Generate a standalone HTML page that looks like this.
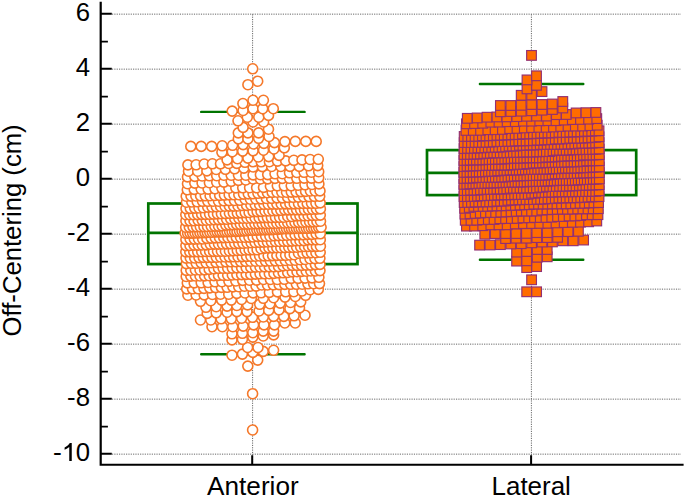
<!DOCTYPE html>
<html><head><meta charset="utf-8"><style>
html,body{margin:0;padding:0;background:#fff;width:685px;height:497px;overflow:hidden;}
body{position:relative;font-family:"Liberation Sans",sans-serif;}
</style></head><body>
<svg width="685" height="497" viewBox="0 0 685 497" style="position:absolute;left:0;top:0">
<defs><filter id="gb" x="-1%" y="-50%" width="102%" height="200%"><feGaussianBlur stdDeviation="0.45"/></filter></defs>
<rect width="685" height="497" fill="#fff"/>
<path d="M112 454.15H681 M112 399.15H681 M112 344.15H681 M112 289.15H681 M112 234.15H681 M112 179.15H681 M112 124.15H681 M112 69.15H681 M112 14.15H681 M252.60 14.3V463 M531.40 14.3V463" stroke="#666" stroke-width="1" stroke-dasharray="1.17 1.17" fill="none" filter="url(#gb)"/>
<rect x="148.30" y="203.50" width="209.20" height="60.60" fill="#fff" stroke="#007400" stroke-width="2.7"/><path d="M148.30 232.85H357.50" stroke="#007400" stroke-width="2.7" fill="none"/><path d="M201.20 111.90H304.60M201.20 354.30H304.60" stroke="#007400" stroke-width="2.4" stroke-linecap="round" fill="none"/>
<rect x="427.00" y="150.10" width="209.20" height="45.00" fill="#fff" stroke="#007400" stroke-width="2.7"/><path d="M427.00 172.90H636.20" stroke="#007400" stroke-width="2.7" fill="none"/><path d="M479.90 84.00H583.30M479.90 259.80H583.30" stroke="#007400" stroke-width="2.4" stroke-linecap="round" fill="none"/>
<g fill="#fff" stroke="#F5782A" stroke-width="1.6"><circle cx="252.6" cy="430.0" r="5.0"/><circle cx="252.6" cy="393.7" r="5.0"/><circle cx="247.8" cy="366.1" r="5.0"/><circle cx="257.7" cy="360.1" r="5.0"/><circle cx="232.0" cy="355.2" r="5.0"/><circle cx="242.4" cy="354.1" r="5.0"/><circle cx="252.8" cy="352.4" r="5.0"/><circle cx="263.2" cy="351.4" r="5.0"/><circle cx="273.6" cy="350.3" r="5.0"/><circle cx="247.6" cy="347.5" r="5.0"/><circle cx="258.0" cy="347.5" r="5.0"/><circle cx="232.0" cy="339.9" r="5.0"/><circle cx="242.4" cy="339.3" r="5.0"/><circle cx="252.8" cy="337.1" r="5.0"/><circle cx="263.2" cy="336.0" r="5.0"/><circle cx="273.6" cy="334.9" r="5.0"/><circle cx="232.0" cy="333.8" r="5.0"/><circle cx="242.4" cy="333.3" r="5.0"/><circle cx="252.8" cy="332.7" r="5.0"/><circle cx="263.2" cy="331.1" r="5.0"/><circle cx="273.6" cy="331.1" r="5.0"/><circle cx="212.0" cy="326.7" r="5.0"/><circle cx="222.4" cy="326.7" r="5.0"/><circle cx="232.8" cy="326.7" r="5.0"/><circle cx="243.2" cy="326.1" r="5.0"/><circle cx="253.6" cy="324.9" r="5.0"/><circle cx="264.0" cy="324.9" r="5.0"/><circle cx="274.4" cy="324.9" r="5.0"/><circle cx="284.8" cy="323.0" r="5.0"/><circle cx="295.2" cy="323.0" r="5.0"/><circle cx="200.5" cy="320.0" r="5.0"/><circle cx="210.8" cy="320.0" r="5.0"/><circle cx="221.1" cy="318.8" r="5.0"/><circle cx="231.3" cy="318.8" r="5.0"/><circle cx="241.6" cy="318.2" r="5.0"/><circle cx="252.5" cy="317.3" r="5.0"/><circle cx="263.3" cy="317.0" r="5.0"/><circle cx="273.6" cy="316.4" r="5.0"/><circle cx="283.8" cy="316.4" r="5.0"/><circle cx="294.1" cy="315.8" r="5.0"/><circle cx="305.0" cy="315.2" r="5.0"/><circle cx="207.2" cy="313.4" r="5.0"/><circle cx="216.2" cy="312.8" r="5.0"/><circle cx="227.1" cy="312.2" r="5.0"/><circle cx="236.8" cy="311.6" r="5.0"/><circle cx="247.0" cy="311.6" r="5.0"/><circle cx="259.1" cy="311.0" r="5.0"/><circle cx="268.7" cy="310.4" r="5.0"/><circle cx="279.0" cy="309.8" r="5.0"/><circle cx="289.9" cy="308.6" r="5.0"/><circle cx="299.5" cy="307.9" r="5.0"/><circle cx="206.0" cy="307.3" r="5.0"/><circle cx="216.2" cy="306.7" r="5.0"/><circle cx="227.1" cy="306.1" r="5.0"/><circle cx="236.8" cy="305.5" r="5.0"/><circle cx="247.6" cy="304.9" r="5.0"/><circle cx="259.7" cy="304.3" r="5.0"/><circle cx="269.9" cy="303.7" r="5.0"/><circle cx="280.2" cy="303.1" r="5.0"/><circle cx="290.5" cy="302.5" r="5.0"/><circle cx="300.7" cy="301.9" r="5.0"/><circle cx="200.5" cy="301.3" r="5.0"/><circle cx="210.8" cy="300.7" r="5.0"/><circle cx="221.7" cy="300.1" r="5.0"/><circle cx="231.3" cy="300.1" r="5.0"/><circle cx="241.6" cy="299.5" r="5.0"/><circle cx="251.3" cy="298.5" r="5.0"/><circle cx="263.3" cy="298.3" r="5.0"/><circle cx="273.6" cy="297.7" r="5.0"/><circle cx="285.0" cy="297.1" r="5.0"/><circle cx="295.3" cy="296.5" r="5.0"/><circle cx="305.6" cy="295.3" r="5.0"/><circle cx="187.9" cy="295.2" r="5.0"/><circle cx="196.1" cy="295.0" r="5.0"/><circle cx="204.2" cy="294.9" r="5.0"/><circle cx="212.4" cy="294.5" r="5.0"/><circle cx="220.5" cy="294.2" r="5.0"/><circle cx="228.7" cy="294.2" r="5.0"/><circle cx="236.8" cy="293.4" r="5.0"/><circle cx="245.0" cy="293.0" r="5.0"/><circle cx="253.1" cy="292.9" r="5.0"/><circle cx="261.2" cy="292.8" r="5.0"/><circle cx="269.4" cy="292.4" r="5.0"/><circle cx="277.5" cy="291.9" r="5.0"/><circle cx="285.7" cy="291.8" r="5.0"/><circle cx="293.8" cy="291.7" r="5.0"/><circle cx="302.0" cy="291.0" r="5.0"/><circle cx="310.1" cy="289.7" r="5.0"/><circle cx="318.3" cy="289.4" r="5.0"/><circle cx="186.7" cy="288.9" r="5.0"/><circle cx="192.5" cy="288.8" r="5.0"/><circle cx="198.3" cy="288.8" r="5.0"/><circle cx="204.0" cy="288.4" r="5.0"/><circle cx="209.8" cy="287.9" r="5.0"/><circle cx="215.6" cy="287.6" r="5.0"/><circle cx="221.4" cy="287.4" r="5.0"/><circle cx="227.1" cy="287.3" r="5.0"/><circle cx="232.9" cy="286.9" r="5.0"/><circle cx="238.7" cy="286.7" r="5.0"/><circle cx="244.4" cy="286.2" r="5.0"/><circle cx="250.2" cy="286.2" r="5.0"/><circle cx="256.0" cy="286.1" r="5.0"/><circle cx="261.8" cy="285.0" r="5.0"/><circle cx="267.5" cy="285.0" r="5.0"/><circle cx="273.3" cy="284.8" r="5.0"/><circle cx="279.1" cy="284.6" r="5.0"/><circle cx="284.8" cy="284.4" r="5.0"/><circle cx="290.6" cy="284.3" r="5.0"/><circle cx="296.4" cy="284.3" r="5.0"/><circle cx="302.2" cy="284.2" r="5.0"/><circle cx="307.9" cy="283.8" r="5.0"/><circle cx="313.7" cy="283.7" r="5.0"/><circle cx="319.5" cy="283.6" r="5.0"/><circle cx="187.3" cy="282.9" r="5.0"/><circle cx="194.2" cy="282.9" r="5.0"/><circle cx="201.2" cy="282.8" r="5.0"/><circle cx="208.1" cy="282.5" r="5.0"/><circle cx="215.0" cy="281.8" r="5.0"/><circle cx="221.9" cy="281.7" r="5.0"/><circle cx="228.9" cy="281.3" r="5.0"/><circle cx="235.8" cy="281.0" r="5.0"/><circle cx="242.7" cy="280.4" r="5.0"/><circle cx="249.6" cy="280.2" r="5.0"/><circle cx="256.6" cy="280.1" r="5.0"/><circle cx="263.5" cy="279.5" r="5.0"/><circle cx="270.4" cy="279.5" r="5.0"/><circle cx="277.3" cy="279.5" r="5.0"/><circle cx="284.3" cy="279.3" r="5.0"/><circle cx="291.2" cy="278.4" r="5.0"/><circle cx="298.1" cy="278.4" r="5.0"/><circle cx="305.0" cy="278.1" r="5.0"/><circle cx="312.0" cy="277.9" r="5.0"/><circle cx="318.9" cy="277.3" r="5.0"/><circle cx="186.2" cy="276.5" r="5.0"/><circle cx="190.8" cy="276.1" r="5.0"/><circle cx="195.4" cy="276.0" r="5.0"/><circle cx="200.0" cy="276.0" r="5.0"/><circle cx="204.6" cy="275.9" r="5.0"/><circle cx="209.2" cy="275.7" r="5.0"/><circle cx="213.9" cy="275.6" r="5.0"/><circle cx="218.5" cy="275.4" r="5.0"/><circle cx="223.1" cy="275.3" r="5.0"/><circle cx="227.7" cy="275.3" r="5.0"/><circle cx="232.3" cy="275.0" r="5.0"/><circle cx="236.9" cy="274.8" r="5.0"/><circle cx="241.6" cy="274.6" r="5.0"/><circle cx="246.2" cy="274.4" r="5.0"/><circle cx="250.8" cy="274.4" r="5.0"/><circle cx="255.4" cy="274.1" r="5.0"/><circle cx="260.0" cy="273.8" r="5.0"/><circle cx="264.6" cy="273.8" r="5.0"/><circle cx="269.3" cy="273.7" r="5.0"/><circle cx="273.9" cy="273.4" r="5.0"/><circle cx="278.5" cy="272.9" r="5.0"/><circle cx="283.1" cy="272.8" r="5.0"/><circle cx="287.7" cy="272.5" r="5.0"/><circle cx="292.3" cy="271.9" r="5.0"/><circle cx="297.0" cy="271.7" r="5.0"/><circle cx="301.6" cy="271.4" r="5.0"/><circle cx="306.2" cy="271.2" r="5.0"/><circle cx="310.8" cy="271.0" r="5.0"/><circle cx="315.4" cy="271.0" r="5.0"/><circle cx="320.0" cy="270.6" r="5.0"/><circle cx="186.2" cy="270.4" r="5.0"/><circle cx="190.8" cy="270.2" r="5.0"/><circle cx="195.4" cy="270.0" r="5.0"/><circle cx="200.0" cy="270.0" r="5.0"/><circle cx="204.6" cy="269.9" r="5.0"/><circle cx="209.2" cy="269.4" r="5.0"/><circle cx="213.9" cy="268.8" r="5.0"/><circle cx="218.5" cy="268.4" r="5.0"/><circle cx="223.1" cy="268.3" r="5.0"/><circle cx="227.7" cy="268.3" r="5.0"/><circle cx="232.3" cy="268.1" r="5.0"/><circle cx="236.9" cy="267.9" r="5.0"/><circle cx="241.6" cy="267.8" r="5.0"/><circle cx="246.2" cy="267.7" r="5.0"/><circle cx="250.8" cy="267.4" r="5.0"/><circle cx="255.4" cy="267.1" r="5.0"/><circle cx="260.0" cy="267.0" r="5.0"/><circle cx="264.6" cy="266.9" r="5.0"/><circle cx="269.3" cy="266.9" r="5.0"/><circle cx="273.9" cy="266.8" r="5.0"/><circle cx="278.5" cy="266.6" r="5.0"/><circle cx="283.1" cy="265.9" r="5.0"/><circle cx="287.7" cy="265.5" r="5.0"/><circle cx="292.3" cy="265.4" r="5.0"/><circle cx="297.0" cy="265.4" r="5.0"/><circle cx="301.6" cy="265.4" r="5.0"/><circle cx="306.2" cy="265.1" r="5.0"/><circle cx="310.8" cy="265.1" r="5.0"/><circle cx="315.4" cy="264.6" r="5.0"/><circle cx="320.0" cy="264.4" r="5.0"/><circle cx="186.3" cy="263.6" r="5.0"/><circle cx="191.3" cy="263.3" r="5.0"/><circle cx="196.2" cy="263.3" r="5.0"/><circle cx="201.2" cy="262.9" r="5.0"/><circle cx="206.1" cy="262.8" r="5.0"/><circle cx="211.1" cy="262.7" r="5.0"/><circle cx="216.0" cy="262.4" r="5.0"/><circle cx="220.9" cy="262.2" r="5.0"/><circle cx="225.9" cy="261.9" r="5.0"/><circle cx="230.8" cy="261.8" r="5.0"/><circle cx="235.8" cy="261.8" r="5.0"/><circle cx="240.7" cy="261.6" r="5.0"/><circle cx="245.7" cy="261.4" r="5.0"/><circle cx="250.6" cy="261.2" r="5.0"/><circle cx="255.6" cy="261.2" r="5.0"/><circle cx="260.5" cy="261.2" r="5.0"/><circle cx="265.5" cy="261.1" r="5.0"/><circle cx="270.4" cy="261.0" r="5.0"/><circle cx="275.4" cy="260.9" r="5.0"/><circle cx="280.3" cy="260.7" r="5.0"/><circle cx="285.3" cy="260.5" r="5.0"/><circle cx="290.2" cy="260.2" r="5.0"/><circle cx="295.1" cy="260.2" r="5.0"/><circle cx="300.1" cy="259.7" r="5.0"/><circle cx="305.0" cy="259.5" r="5.0"/><circle cx="310.0" cy="258.7" r="5.0"/><circle cx="314.9" cy="258.6" r="5.0"/><circle cx="319.9" cy="258.3" r="5.0"/><circle cx="186.0" cy="258.1" r="5.0"/><circle cx="190.3" cy="258.0" r="5.0"/><circle cx="194.7" cy="258.0" r="5.0"/><circle cx="199.0" cy="257.6" r="5.0"/><circle cx="203.3" cy="257.4" r="5.0"/><circle cx="207.7" cy="257.4" r="5.0"/><circle cx="212.0" cy="257.4" r="5.0"/><circle cx="216.3" cy="257.3" r="5.0"/><circle cx="220.6" cy="257.0" r="5.0"/><circle cx="225.0" cy="257.0" r="5.0"/><circle cx="229.3" cy="256.9" r="5.0"/><circle cx="233.6" cy="256.8" r="5.0"/><circle cx="238.0" cy="256.7" r="5.0"/><circle cx="242.3" cy="256.6" r="5.0"/><circle cx="246.6" cy="256.4" r="5.0"/><circle cx="250.9" cy="256.3" r="5.0"/><circle cx="255.3" cy="256.2" r="5.0"/><circle cx="259.6" cy="256.0" r="5.0"/><circle cx="263.9" cy="255.9" r="5.0"/><circle cx="268.2" cy="255.8" r="5.0"/><circle cx="272.6" cy="255.6" r="5.0"/><circle cx="276.9" cy="255.4" r="5.0"/><circle cx="281.2" cy="255.3" r="5.0"/><circle cx="285.6" cy="255.3" r="5.0"/><circle cx="289.9" cy="255.0" r="5.0"/><circle cx="294.2" cy="254.7" r="5.0"/><circle cx="298.5" cy="253.2" r="5.0"/><circle cx="302.9" cy="253.0" r="5.0"/><circle cx="307.2" cy="252.9" r="5.0"/><circle cx="311.5" cy="252.7" r="5.0"/><circle cx="315.9" cy="252.7" r="5.0"/><circle cx="320.2" cy="252.3" r="5.0"/><circle cx="185.8" cy="251.9" r="5.0"/><circle cx="189.8" cy="251.9" r="5.0"/><circle cx="193.7" cy="251.8" r="5.0"/><circle cx="197.7" cy="251.8" r="5.0"/><circle cx="201.7" cy="251.7" r="5.0"/><circle cx="205.6" cy="251.5" r="5.0"/><circle cx="209.6" cy="251.5" r="5.0"/><circle cx="213.5" cy="251.4" r="5.0"/><circle cx="217.5" cy="251.3" r="5.0"/><circle cx="221.4" cy="251.2" r="5.0"/><circle cx="225.4" cy="251.2" r="5.0"/><circle cx="229.4" cy="251.0" r="5.0"/><circle cx="233.3" cy="250.8" r="5.0"/><circle cx="237.3" cy="250.5" r="5.0"/><circle cx="241.2" cy="250.4" r="5.0"/><circle cx="245.2" cy="250.0" r="5.0"/><circle cx="249.1" cy="249.9" r="5.0"/><circle cx="253.1" cy="249.7" r="5.0"/><circle cx="257.1" cy="249.7" r="5.0"/><circle cx="261.0" cy="248.7" r="5.0"/><circle cx="265.0" cy="248.1" r="5.0"/><circle cx="268.9" cy="247.9" r="5.0"/><circle cx="272.9" cy="247.9" r="5.0"/><circle cx="276.8" cy="247.7" r="5.0"/><circle cx="280.8" cy="247.7" r="5.0"/><circle cx="284.8" cy="247.6" r="5.0"/><circle cx="288.7" cy="247.3" r="5.0"/><circle cx="292.7" cy="247.3" r="5.0"/><circle cx="296.6" cy="247.2" r="5.0"/><circle cx="300.6" cy="246.8" r="5.0"/><circle cx="304.5" cy="246.5" r="5.0"/><circle cx="308.5" cy="246.5" r="5.0"/><circle cx="312.5" cy="246.4" r="5.0"/><circle cx="316.4" cy="246.4" r="5.0"/><circle cx="320.4" cy="246.2" r="5.0"/><circle cx="185.9" cy="245.6" r="5.0"/><circle cx="190.0" cy="245.5" r="5.0"/><circle cx="194.0" cy="245.1" r="5.0"/><circle cx="198.1" cy="245.1" r="5.0"/><circle cx="202.2" cy="245.0" r="5.0"/><circle cx="206.3" cy="244.9" r="5.0"/><circle cx="210.3" cy="244.3" r="5.0"/><circle cx="214.4" cy="244.1" r="5.0"/><circle cx="218.5" cy="244.1" r="5.0"/><circle cx="222.5" cy="244.0" r="5.0"/><circle cx="226.6" cy="243.9" r="5.0"/><circle cx="230.7" cy="243.8" r="5.0"/><circle cx="234.8" cy="243.6" r="5.0"/><circle cx="238.8" cy="243.4" r="5.0"/><circle cx="242.9" cy="243.3" r="5.0"/><circle cx="247.0" cy="243.0" r="5.0"/><circle cx="251.1" cy="242.7" r="5.0"/><circle cx="255.1" cy="242.5" r="5.0"/><circle cx="259.2" cy="242.3" r="5.0"/><circle cx="263.3" cy="242.1" r="5.0"/><circle cx="267.4" cy="242.0" r="5.0"/><circle cx="271.4" cy="241.8" r="5.0"/><circle cx="275.5" cy="241.5" r="5.0"/><circle cx="279.6" cy="241.5" r="5.0"/><circle cx="283.7" cy="241.3" r="5.0"/><circle cx="287.7" cy="241.3" r="5.0"/><circle cx="291.8" cy="241.1" r="5.0"/><circle cx="295.9" cy="240.8" r="5.0"/><circle cx="299.9" cy="240.7" r="5.0"/><circle cx="304.0" cy="240.6" r="5.0"/><circle cx="308.1" cy="239.8" r="5.0"/><circle cx="312.2" cy="239.8" r="5.0"/><circle cx="316.2" cy="239.8" r="5.0"/><circle cx="320.3" cy="239.7" r="5.0"/><circle cx="185.9" cy="239.4" r="5.0"/><circle cx="190.1" cy="239.1" r="5.0"/><circle cx="194.3" cy="239.1" r="5.0"/><circle cx="198.5" cy="239.0" r="5.0"/><circle cx="202.7" cy="239.0" r="5.0"/><circle cx="206.9" cy="238.4" r="5.0"/><circle cx="211.1" cy="238.1" r="5.0"/><circle cx="215.3" cy="237.9" r="5.0"/><circle cx="219.5" cy="237.7" r="5.0"/><circle cx="223.7" cy="237.6" r="5.0"/><circle cx="227.9" cy="237.5" r="5.0"/><circle cx="232.1" cy="237.5" r="5.0"/><circle cx="236.3" cy="237.4" r="5.0"/><circle cx="240.5" cy="237.2" r="5.0"/><circle cx="244.7" cy="237.2" r="5.0"/><circle cx="248.9" cy="237.1" r="5.0"/><circle cx="253.1" cy="237.0" r="5.0"/><circle cx="257.3" cy="236.4" r="5.0"/><circle cx="261.5" cy="236.3" r="5.0"/><circle cx="265.7" cy="236.2" r="5.0"/><circle cx="269.9" cy="236.2" r="5.0"/><circle cx="274.1" cy="235.8" r="5.0"/><circle cx="278.3" cy="235.6" r="5.0"/><circle cx="282.5" cy="235.5" r="5.0"/><circle cx="286.7" cy="235.3" r="5.0"/><circle cx="290.9" cy="235.0" r="5.0"/><circle cx="295.1" cy="234.9" r="5.0"/><circle cx="299.3" cy="234.8" r="5.0"/><circle cx="303.5" cy="234.8" r="5.0"/><circle cx="307.7" cy="234.4" r="5.0"/><circle cx="311.9" cy="234.4" r="5.0"/><circle cx="316.1" cy="233.8" r="5.0"/><circle cx="320.3" cy="233.8" r="5.0"/><circle cx="185.1" cy="233.2" r="5.0"/><circle cx="187.6" cy="233.2" r="5.0"/><circle cx="190.0" cy="233.1" r="5.0"/><circle cx="192.5" cy="233.1" r="5.0"/><circle cx="195.0" cy="233.0" r="5.0"/><circle cx="197.5" cy="233.0" r="5.0"/><circle cx="199.9" cy="232.8" r="5.0"/><circle cx="202.4" cy="232.7" r="5.0"/><circle cx="204.9" cy="232.6" r="5.0"/><circle cx="207.3" cy="232.5" r="5.0"/><circle cx="209.8" cy="232.3" r="5.0"/><circle cx="212.3" cy="232.2" r="5.0"/><circle cx="214.8" cy="232.0" r="5.0"/><circle cx="217.2" cy="231.9" r="5.0"/><circle cx="219.7" cy="231.9" r="5.0"/><circle cx="222.2" cy="231.9" r="5.0"/><circle cx="224.7" cy="231.8" r="5.0"/><circle cx="227.1" cy="231.7" r="5.0"/><circle cx="229.6" cy="231.6" r="5.0"/><circle cx="232.1" cy="231.5" r="5.0"/><circle cx="234.6" cy="231.4" r="5.0"/><circle cx="237.0" cy="231.4" r="5.0"/><circle cx="239.5" cy="231.1" r="5.0"/><circle cx="242.0" cy="231.0" r="5.0"/><circle cx="244.4" cy="230.8" r="5.0"/><circle cx="246.9" cy="230.7" r="5.0"/><circle cx="249.4" cy="230.3" r="5.0"/><circle cx="251.9" cy="230.2" r="5.0"/><circle cx="254.3" cy="230.2" r="5.0"/><circle cx="256.8" cy="230.1" r="5.0"/><circle cx="259.3" cy="230.0" r="5.0"/><circle cx="261.8" cy="229.8" r="5.0"/><circle cx="264.2" cy="229.8" r="5.0"/><circle cx="266.7" cy="229.7" r="5.0"/><circle cx="269.2" cy="229.7" r="5.0"/><circle cx="271.6" cy="229.6" r="5.0"/><circle cx="274.1" cy="229.5" r="5.0"/><circle cx="276.6" cy="229.4" r="5.0"/><circle cx="279.1" cy="229.1" r="5.0"/><circle cx="281.5" cy="228.9" r="5.0"/><circle cx="284.0" cy="228.7" r="5.0"/><circle cx="286.5" cy="228.7" r="5.0"/><circle cx="289.0" cy="228.6" r="5.0"/><circle cx="291.4" cy="228.6" r="5.0"/><circle cx="293.9" cy="228.5" r="5.0"/><circle cx="296.4" cy="228.5" r="5.0"/><circle cx="298.9" cy="228.5" r="5.0"/><circle cx="301.3" cy="228.4" r="5.0"/><circle cx="303.8" cy="228.3" r="5.0"/><circle cx="306.3" cy="228.2" r="5.0"/><circle cx="308.7" cy="228.2" r="5.0"/><circle cx="311.2" cy="227.9" r="5.0"/><circle cx="313.7" cy="227.9" r="5.0"/><circle cx="316.2" cy="227.8" r="5.0"/><circle cx="318.6" cy="227.3" r="5.0"/><circle cx="321.1" cy="227.3" r="5.0"/><circle cx="185.7" cy="227.2" r="5.0"/><circle cx="189.3" cy="227.1" r="5.0"/><circle cx="193.0" cy="226.8" r="5.0"/><circle cx="196.6" cy="226.8" r="5.0"/><circle cx="200.3" cy="226.7" r="5.0"/><circle cx="203.9" cy="226.6" r="5.0"/><circle cx="207.5" cy="226.5" r="5.0"/><circle cx="211.2" cy="226.3" r="5.0"/><circle cx="214.8" cy="226.1" r="5.0"/><circle cx="218.5" cy="226.1" r="5.0"/><circle cx="222.1" cy="225.8" r="5.0"/><circle cx="225.8" cy="225.1" r="5.0"/><circle cx="229.4" cy="224.9" r="5.0"/><circle cx="233.1" cy="224.7" r="5.0"/><circle cx="236.7" cy="224.4" r="5.0"/><circle cx="240.3" cy="224.3" r="5.0"/><circle cx="244.0" cy="224.1" r="5.0"/><circle cx="247.6" cy="224.1" r="5.0"/><circle cx="251.3" cy="224.0" r="5.0"/><circle cx="254.9" cy="223.8" r="5.0"/><circle cx="258.6" cy="223.8" r="5.0"/><circle cx="262.2" cy="223.6" r="5.0"/><circle cx="265.9" cy="223.6" r="5.0"/><circle cx="269.5" cy="223.5" r="5.0"/><circle cx="273.1" cy="223.4" r="5.0"/><circle cx="276.8" cy="223.2" r="5.0"/><circle cx="280.4" cy="223.0" r="5.0"/><circle cx="284.1" cy="223.0" r="5.0"/><circle cx="287.7" cy="222.7" r="5.0"/><circle cx="291.4" cy="222.7" r="5.0"/><circle cx="295.0" cy="222.5" r="5.0"/><circle cx="298.7" cy="222.4" r="5.0"/><circle cx="302.3" cy="222.2" r="5.0"/><circle cx="305.9" cy="222.0" r="5.0"/><circle cx="309.6" cy="221.9" r="5.0"/><circle cx="313.2" cy="221.9" r="5.0"/><circle cx="316.9" cy="221.5" r="5.0"/><circle cx="320.5" cy="221.2" r="5.0"/><circle cx="185.9" cy="220.9" r="5.0"/><circle cx="190.0" cy="220.8" r="5.0"/><circle cx="194.0" cy="220.7" r="5.0"/><circle cx="198.1" cy="220.3" r="5.0"/><circle cx="202.2" cy="220.3" r="5.0"/><circle cx="206.3" cy="220.2" r="5.0"/><circle cx="210.3" cy="220.0" r="5.0"/><circle cx="214.4" cy="219.7" r="5.0"/><circle cx="218.5" cy="219.6" r="5.0"/><circle cx="222.5" cy="219.3" r="5.0"/><circle cx="226.6" cy="219.3" r="5.0"/><circle cx="230.7" cy="218.9" r="5.0"/><circle cx="234.8" cy="218.7" r="5.0"/><circle cx="238.8" cy="218.3" r="5.0"/><circle cx="242.9" cy="218.2" r="5.0"/><circle cx="247.0" cy="218.2" r="5.0"/><circle cx="251.1" cy="218.0" r="5.0"/><circle cx="255.1" cy="218.0" r="5.0"/><circle cx="259.2" cy="217.9" r="5.0"/><circle cx="263.3" cy="217.6" r="5.0"/><circle cx="267.4" cy="217.6" r="5.0"/><circle cx="271.4" cy="217.6" r="5.0"/><circle cx="275.5" cy="217.4" r="5.0"/><circle cx="279.6" cy="217.3" r="5.0"/><circle cx="283.7" cy="217.2" r="5.0"/><circle cx="287.7" cy="216.5" r="5.0"/><circle cx="291.8" cy="216.5" r="5.0"/><circle cx="295.9" cy="215.9" r="5.0"/><circle cx="299.9" cy="215.8" r="5.0"/><circle cx="304.0" cy="215.8" r="5.0"/><circle cx="308.1" cy="215.7" r="5.0"/><circle cx="312.2" cy="215.4" r="5.0"/><circle cx="316.2" cy="215.2" r="5.0"/><circle cx="320.3" cy="215.1" r="5.0"/><circle cx="185.8" cy="214.7" r="5.0"/><circle cx="189.8" cy="214.7" r="5.0"/><circle cx="193.7" cy="214.7" r="5.0"/><circle cx="197.7" cy="214.6" r="5.0"/><circle cx="201.7" cy="214.4" r="5.0"/><circle cx="205.6" cy="214.4" r="5.0"/><circle cx="209.6" cy="214.3" r="5.0"/><circle cx="213.5" cy="214.1" r="5.0"/><circle cx="217.5" cy="213.9" r="5.0"/><circle cx="221.4" cy="213.7" r="5.0"/><circle cx="225.4" cy="213.6" r="5.0"/><circle cx="229.4" cy="213.3" r="5.0"/><circle cx="233.3" cy="213.1" r="5.0"/><circle cx="237.3" cy="213.1" r="5.0"/><circle cx="241.2" cy="212.9" r="5.0"/><circle cx="245.2" cy="212.6" r="5.0"/><circle cx="249.1" cy="212.5" r="5.0"/><circle cx="253.1" cy="211.6" r="5.0"/><circle cx="257.1" cy="211.6" r="5.0"/><circle cx="261.0" cy="211.4" r="5.0"/><circle cx="265.0" cy="211.0" r="5.0"/><circle cx="268.9" cy="211.0" r="5.0"/><circle cx="272.9" cy="210.7" r="5.0"/><circle cx="276.8" cy="210.6" r="5.0"/><circle cx="280.8" cy="210.3" r="5.0"/><circle cx="284.8" cy="209.9" r="5.0"/><circle cx="288.7" cy="209.9" r="5.0"/><circle cx="292.7" cy="209.8" r="5.0"/><circle cx="296.6" cy="209.8" r="5.0"/><circle cx="300.6" cy="209.8" r="5.0"/><circle cx="304.5" cy="209.8" r="5.0"/><circle cx="308.5" cy="209.4" r="5.0"/><circle cx="312.5" cy="209.2" r="5.0"/><circle cx="316.4" cy="209.1" r="5.0"/><circle cx="320.4" cy="208.9" r="5.0"/><circle cx="186.0" cy="208.6" r="5.0"/><circle cx="190.3" cy="208.4" r="5.0"/><circle cx="194.7" cy="208.1" r="5.0"/><circle cx="199.0" cy="208.0" r="5.0"/><circle cx="203.3" cy="207.7" r="5.0"/><circle cx="207.7" cy="207.1" r="5.0"/><circle cx="212.0" cy="207.0" r="5.0"/><circle cx="216.3" cy="206.8" r="5.0"/><circle cx="220.6" cy="206.5" r="5.0"/><circle cx="225.0" cy="206.2" r="5.0"/><circle cx="229.3" cy="206.1" r="5.0"/><circle cx="233.6" cy="206.1" r="5.0"/><circle cx="238.0" cy="206.0" r="5.0"/><circle cx="242.3" cy="205.5" r="5.0"/><circle cx="246.6" cy="205.4" r="5.0"/><circle cx="250.9" cy="205.0" r="5.0"/><circle cx="255.3" cy="204.9" r="5.0"/><circle cx="259.6" cy="204.7" r="5.0"/><circle cx="263.9" cy="204.3" r="5.0"/><circle cx="268.2" cy="204.3" r="5.0"/><circle cx="272.6" cy="204.1" r="5.0"/><circle cx="276.9" cy="204.1" r="5.0"/><circle cx="281.2" cy="204.0" r="5.0"/><circle cx="285.6" cy="203.9" r="5.0"/><circle cx="289.9" cy="203.9" r="5.0"/><circle cx="294.2" cy="203.9" r="5.0"/><circle cx="298.5" cy="203.6" r="5.0"/><circle cx="302.9" cy="203.4" r="5.0"/><circle cx="307.2" cy="203.4" r="5.0"/><circle cx="311.5" cy="203.3" r="5.0"/><circle cx="315.9" cy="203.3" r="5.0"/><circle cx="320.2" cy="202.9" r="5.0"/><circle cx="186.5" cy="202.2" r="5.0"/><circle cx="191.8" cy="202.0" r="5.0"/><circle cx="197.2" cy="201.8" r="5.0"/><circle cx="202.5" cy="201.3" r="5.0"/><circle cx="207.8" cy="201.3" r="5.0"/><circle cx="213.1" cy="201.2" r="5.0"/><circle cx="218.5" cy="201.2" r="5.0"/><circle cx="223.8" cy="200.8" r="5.0"/><circle cx="229.1" cy="200.6" r="5.0"/><circle cx="234.5" cy="200.5" r="5.0"/><circle cx="239.8" cy="200.3" r="5.0"/><circle cx="245.1" cy="199.2" r="5.0"/><circle cx="250.4" cy="199.2" r="5.0"/><circle cx="255.8" cy="199.0" r="5.0"/><circle cx="261.1" cy="198.9" r="5.0"/><circle cx="266.4" cy="198.5" r="5.0"/><circle cx="271.7" cy="198.4" r="5.0"/><circle cx="277.1" cy="197.9" r="5.0"/><circle cx="282.4" cy="197.9" r="5.0"/><circle cx="287.7" cy="197.4" r="5.0"/><circle cx="293.1" cy="197.3" r="5.0"/><circle cx="298.4" cy="197.1" r="5.0"/><circle cx="303.7" cy="196.7" r="5.0"/><circle cx="309.0" cy="196.6" r="5.0"/><circle cx="314.4" cy="196.4" r="5.0"/><circle cx="319.7" cy="196.3" r="5.0"/><circle cx="186.2" cy="196.2" r="5.0"/><circle cx="191.0" cy="196.1" r="5.0"/><circle cx="195.8" cy="196.0" r="5.0"/><circle cx="200.6" cy="195.9" r="5.0"/><circle cx="205.3" cy="195.8" r="5.0"/><circle cx="210.1" cy="195.7" r="5.0"/><circle cx="214.9" cy="195.5" r="5.0"/><circle cx="219.7" cy="195.4" r="5.0"/><circle cx="224.4" cy="195.1" r="5.0"/><circle cx="229.2" cy="194.9" r="5.0"/><circle cx="234.0" cy="194.8" r="5.0"/><circle cx="238.8" cy="194.7" r="5.0"/><circle cx="243.5" cy="194.1" r="5.0"/><circle cx="248.3" cy="193.9" r="5.0"/><circle cx="253.1" cy="193.8" r="5.0"/><circle cx="257.9" cy="193.3" r="5.0"/><circle cx="262.7" cy="192.9" r="5.0"/><circle cx="267.4" cy="192.7" r="5.0"/><circle cx="272.2" cy="192.4" r="5.0"/><circle cx="277.0" cy="192.2" r="5.0"/><circle cx="281.8" cy="192.2" r="5.0"/><circle cx="286.5" cy="192.2" r="5.0"/><circle cx="291.3" cy="192.1" r="5.0"/><circle cx="296.1" cy="191.9" r="5.0"/><circle cx="300.9" cy="191.6" r="5.0"/><circle cx="305.6" cy="191.4" r="5.0"/><circle cx="310.4" cy="191.0" r="5.0"/><circle cx="315.2" cy="191.0" r="5.0"/><circle cx="320.0" cy="190.9" r="5.0"/><circle cx="187.3" cy="189.8" r="5.0"/><circle cx="194.2" cy="189.4" r="5.0"/><circle cx="201.2" cy="189.2" r="5.0"/><circle cx="208.1" cy="189.1" r="5.0"/><circle cx="215.0" cy="188.8" r="5.0"/><circle cx="221.9" cy="188.3" r="5.0"/><circle cx="228.9" cy="188.2" r="5.0"/><circle cx="235.8" cy="187.9" r="5.0"/><circle cx="242.7" cy="187.8" r="5.0"/><circle cx="249.6" cy="187.7" r="5.0"/><circle cx="256.6" cy="187.7" r="5.0"/><circle cx="263.5" cy="187.4" r="5.0"/><circle cx="270.4" cy="186.2" r="5.0"/><circle cx="277.3" cy="185.8" r="5.0"/><circle cx="284.3" cy="185.8" r="5.0"/><circle cx="291.2" cy="185.8" r="5.0"/><circle cx="298.1" cy="185.2" r="5.0"/><circle cx="305.0" cy="184.8" r="5.0"/><circle cx="312.0" cy="184.5" r="5.0"/><circle cx="318.9" cy="183.9" r="5.0"/><circle cx="187.5" cy="183.7" r="5.0"/><circle cx="194.8" cy="183.1" r="5.0"/><circle cx="202.1" cy="183.0" r="5.0"/><circle cx="209.4" cy="182.7" r="5.0"/><circle cx="216.7" cy="182.2" r="5.0"/><circle cx="223.9" cy="182.1" r="5.0"/><circle cx="231.2" cy="181.3" r="5.0"/><circle cx="238.5" cy="180.4" r="5.0"/><circle cx="245.8" cy="180.0" r="5.0"/><circle cx="253.1" cy="179.0" r="5.0"/><circle cx="260.4" cy="179.0" r="5.0"/><circle cx="267.7" cy="178.9" r="5.0"/><circle cx="275.0" cy="178.4" r="5.0"/><circle cx="282.3" cy="178.4" r="5.0"/><circle cx="289.5" cy="178.3" r="5.0"/><circle cx="296.8" cy="178.3" r="5.0"/><circle cx="304.1" cy="178.1" r="5.0"/><circle cx="311.4" cy="178.1" r="5.0"/><circle cx="318.7" cy="177.8" r="5.0"/><circle cx="187.5" cy="176.9" r="5.0"/><circle cx="194.8" cy="176.4" r="5.0"/><circle cx="202.1" cy="176.0" r="5.0"/><circle cx="209.4" cy="175.8" r="5.0"/><circle cx="216.7" cy="175.7" r="5.0"/><circle cx="223.9" cy="175.2" r="5.0"/><circle cx="231.2" cy="175.2" r="5.0"/><circle cx="238.5" cy="175.2" r="5.0"/><circle cx="245.8" cy="175.2" r="5.0"/><circle cx="253.1" cy="174.9" r="5.0"/><circle cx="260.4" cy="174.7" r="5.0"/><circle cx="267.7" cy="174.6" r="5.0"/><circle cx="275.0" cy="173.8" r="5.0"/><circle cx="282.3" cy="173.7" r="5.0"/><circle cx="289.5" cy="172.8" r="5.0"/><circle cx="296.8" cy="172.5" r="5.0"/><circle cx="304.1" cy="172.3" r="5.0"/><circle cx="311.4" cy="172.2" r="5.0"/><circle cx="318.7" cy="171.7" r="5.0"/><circle cx="188.5" cy="171.2" r="5.0"/><circle cx="197.7" cy="171.2" r="5.0"/><circle cx="206.9" cy="170.9" r="5.0"/><circle cx="216.2" cy="169.5" r="5.0"/><circle cx="225.4" cy="169.3" r="5.0"/><circle cx="234.6" cy="168.8" r="5.0"/><circle cx="243.9" cy="168.1" r="5.0"/><circle cx="253.1" cy="167.0" r="5.0"/><circle cx="262.3" cy="166.6" r="5.0"/><circle cx="271.6" cy="166.5" r="5.0"/><circle cx="280.8" cy="166.5" r="5.0"/><circle cx="290.0" cy="166.4" r="5.0"/><circle cx="299.3" cy="166.4" r="5.0"/><circle cx="308.5" cy="165.8" r="5.0"/><circle cx="317.7" cy="165.6" r="5.0"/><circle cx="187.9" cy="164.9" r="5.0"/><circle cx="196.1" cy="164.8" r="5.0"/><circle cx="204.2" cy="164.0" r="5.0"/><circle cx="212.4" cy="163.8" r="5.0"/><circle cx="220.5" cy="163.8" r="5.0"/><circle cx="228.7" cy="163.5" r="5.0"/><circle cx="236.8" cy="163.4" r="5.0"/><circle cx="245.0" cy="162.3" r="5.0"/><circle cx="253.1" cy="161.8" r="5.0"/><circle cx="261.2" cy="161.8" r="5.0"/><circle cx="269.4" cy="161.7" r="5.0"/><circle cx="277.5" cy="161.1" r="5.0"/><circle cx="285.7" cy="160.9" r="5.0"/><circle cx="293.8" cy="160.3" r="5.0"/><circle cx="302.0" cy="159.9" r="5.0"/><circle cx="310.1" cy="159.5" r="5.0"/><circle cx="318.3" cy="159.3" r="5.0"/><circle cx="227.1" cy="159.9" r="5.0"/><circle cx="237.5" cy="158.7" r="5.0"/><circle cx="247.9" cy="158.1" r="5.0"/><circle cx="258.3" cy="157.0" r="5.0"/><circle cx="268.7" cy="156.6" r="5.0"/><circle cx="279.1" cy="155.4" r="5.0"/><circle cx="221.9" cy="152.3" r="5.0"/><circle cx="232.3" cy="151.7" r="5.0"/><circle cx="242.7" cy="151.1" r="5.0"/><circle cx="253.1" cy="150.8" r="5.0"/><circle cx="263.5" cy="150.2" r="5.0"/><circle cx="273.9" cy="149.0" r="5.0"/><circle cx="284.3" cy="147.8" r="5.0"/><circle cx="190.8" cy="146.4" r="5.0"/><circle cx="201.2" cy="146.4" r="5.0"/><circle cx="211.7" cy="146.4" r="5.0"/><circle cx="222.2" cy="145.8" r="5.0"/><circle cx="232.6" cy="145.3" r="5.0"/><circle cx="243.1" cy="144.6" r="5.0"/><circle cx="253.5" cy="144.0" r="5.0"/><circle cx="263.9" cy="143.4" r="5.0"/><circle cx="274.4" cy="142.6" r="5.0"/><circle cx="284.9" cy="141.6" r="5.0"/><circle cx="295.3" cy="141.4" r="5.0"/><circle cx="305.8" cy="141.4" r="5.0"/><circle cx="316.2" cy="141.4" r="5.0"/><circle cx="238.3" cy="138.9" r="5.0"/><circle cx="247.9" cy="138.9" r="5.0"/><circle cx="258.6" cy="138.3" r="5.0"/><circle cx="269.0" cy="136.5" r="5.0"/><circle cx="238.3" cy="132.9" r="5.0"/><circle cx="247.9" cy="132.9" r="5.0"/><circle cx="258.6" cy="132.9" r="5.0"/><circle cx="268.5" cy="129.2" r="5.0"/><circle cx="243.1" cy="127.4" r="5.0"/><circle cx="253.0" cy="122.0" r="5.0"/><circle cx="263.6" cy="122.0" r="5.0"/><circle cx="238.0" cy="120.8" r="5.0"/><circle cx="247.3" cy="117.2" r="5.0"/><circle cx="258.8" cy="117.2" r="5.0"/><circle cx="268.5" cy="115.4" r="5.0"/><circle cx="232.2" cy="111.1" r="5.0"/><circle cx="243.1" cy="110.5" r="5.0"/><circle cx="253.0" cy="108.7" r="5.0"/><circle cx="262.7" cy="108.7" r="5.0"/><circle cx="273.3" cy="108.7" r="5.0"/><circle cx="242.9" cy="103.5" r="5.0"/><circle cx="253.0" cy="100.3" r="5.0"/><circle cx="263.4" cy="100.3" r="5.0"/><circle cx="247.9" cy="84.7" r="5.0"/><circle cx="257.7" cy="81.2" r="5.0"/><circle cx="252.7" cy="68.8" r="5.0"/></g>
<g fill="#FF6C00" stroke="#922F72" stroke-width="1.15"><rect x="521.85" y="286.95" width="9.7" height="9.7"/><rect x="531.75" y="286.95" width="9.7" height="9.7"/><rect x="526.75" y="274.95" width="9.7" height="9.7"/><rect x="521.85" y="262.75" width="9.7" height="9.7"/><rect x="531.75" y="261.75" width="9.7" height="9.7"/><rect x="511.75" y="256.25" width="9.7" height="9.7"/><rect x="521.85" y="255.95" width="9.7" height="9.7"/><rect x="532.35" y="252.35" width="9.7" height="9.7"/><rect x="542.35" y="251.95" width="9.7" height="9.7"/><rect x="511.75" y="247.25" width="9.7" height="9.7"/><rect x="521.85" y="246.65" width="9.7" height="9.7"/><rect x="532.35" y="244.65" width="9.7" height="9.7"/><rect x="542.35" y="244.65" width="9.7" height="9.7"/><rect x="474.75" y="240.27" width="9.7" height="9.7"/><rect x="485.15" y="240.12" width="9.7" height="9.7"/><rect x="495.55" y="239.79" width="9.7" height="9.7"/><rect x="505.95" y="239.14" width="9.7" height="9.7"/><rect x="516.35" y="238.82" width="9.7" height="9.7"/><rect x="526.75" y="237.98" width="9.7" height="9.7"/><rect x="537.15" y="237.22" width="9.7" height="9.7"/><rect x="547.55" y="237.06" width="9.7" height="9.7"/><rect x="557.95" y="235.97" width="9.7" height="9.7"/><rect x="568.35" y="235.96" width="9.7" height="9.7"/><rect x="578.75" y="235.20" width="9.7" height="9.7"/><rect x="500.75" y="233.72" width="9.7" height="9.7"/><rect x="511.15" y="233.36" width="9.7" height="9.7"/><rect x="521.55" y="233.33" width="9.7" height="9.7"/><rect x="531.95" y="232.75" width="9.7" height="9.7"/><rect x="542.35" y="232.69" width="9.7" height="9.7"/><rect x="552.75" y="232.48" width="9.7" height="9.7"/><rect x="479.95" y="229.34" width="9.7" height="9.7"/><rect x="490.35" y="228.72" width="9.7" height="9.7"/><rect x="500.75" y="228.70" width="9.7" height="9.7"/><rect x="511.15" y="228.67" width="9.7" height="9.7"/><rect x="521.55" y="228.53" width="9.7" height="9.7"/><rect x="531.95" y="227.78" width="9.7" height="9.7"/><rect x="542.35" y="227.75" width="9.7" height="9.7"/><rect x="552.75" y="226.93" width="9.7" height="9.7"/><rect x="563.15" y="226.78" width="9.7" height="9.7"/><rect x="573.55" y="226.42" width="9.7" height="9.7"/><rect x="461.57" y="221.28" width="9.7" height="9.7"/><rect x="469.72" y="221.24" width="9.7" height="9.7"/><rect x="477.87" y="220.83" width="9.7" height="9.7"/><rect x="486.01" y="220.03" width="9.7" height="9.7"/><rect x="494.16" y="219.98" width="9.7" height="9.7"/><rect x="502.31" y="219.98" width="9.7" height="9.7"/><rect x="510.46" y="219.09" width="9.7" height="9.7"/><rect x="518.60" y="218.76" width="9.7" height="9.7"/><rect x="526.75" y="218.68" width="9.7" height="9.7"/><rect x="534.90" y="218.52" width="9.7" height="9.7"/><rect x="543.04" y="218.38" width="9.7" height="9.7"/><rect x="551.19" y="218.06" width="9.7" height="9.7"/><rect x="559.34" y="217.72" width="9.7" height="9.7"/><rect x="567.49" y="217.46" width="9.7" height="9.7"/><rect x="575.63" y="217.30" width="9.7" height="9.7"/><rect x="583.78" y="216.95" width="9.7" height="9.7"/><rect x="591.93" y="216.15" width="9.7" height="9.7"/><rect x="460.39" y="215.43" width="9.7" height="9.7"/><rect x="466.16" y="215.40" width="9.7" height="9.7"/><rect x="471.93" y="215.31" width="9.7" height="9.7"/><rect x="477.70" y="214.85" width="9.7" height="9.7"/><rect x="483.47" y="214.63" width="9.7" height="9.7"/><rect x="489.24" y="214.58" width="9.7" height="9.7"/><rect x="495.01" y="213.88" width="9.7" height="9.7"/><rect x="500.78" y="213.71" width="9.7" height="9.7"/><rect x="506.55" y="213.65" width="9.7" height="9.7"/><rect x="512.32" y="213.55" width="9.7" height="9.7"/><rect x="518.09" y="212.99" width="9.7" height="9.7"/><rect x="523.86" y="212.93" width="9.7" height="9.7"/><rect x="529.64" y="212.66" width="9.7" height="9.7"/><rect x="535.41" y="212.63" width="9.7" height="9.7"/><rect x="541.18" y="212.60" width="9.7" height="9.7"/><rect x="546.95" y="212.36" width="9.7" height="9.7"/><rect x="552.72" y="211.72" width="9.7" height="9.7"/><rect x="558.49" y="211.66" width="9.7" height="9.7"/><rect x="564.26" y="211.13" width="9.7" height="9.7"/><rect x="570.03" y="211.10" width="9.7" height="9.7"/><rect x="575.80" y="210.65" width="9.7" height="9.7"/><rect x="581.57" y="209.91" width="9.7" height="9.7"/><rect x="587.34" y="209.83" width="9.7" height="9.7"/><rect x="593.11" y="209.81" width="9.7" height="9.7"/><rect x="460.06" y="209.25" width="9.7" height="9.7"/><rect x="465.19" y="208.82" width="9.7" height="9.7"/><rect x="470.32" y="208.52" width="9.7" height="9.7"/><rect x="475.45" y="208.15" width="9.7" height="9.7"/><rect x="480.58" y="207.80" width="9.7" height="9.7"/><rect x="485.71" y="207.65" width="9.7" height="9.7"/><rect x="490.84" y="207.62" width="9.7" height="9.7"/><rect x="495.97" y="207.25" width="9.7" height="9.7"/><rect x="501.10" y="207.04" width="9.7" height="9.7"/><rect x="506.23" y="206.76" width="9.7" height="9.7"/><rect x="511.36" y="206.49" width="9.7" height="9.7"/><rect x="516.49" y="206.23" width="9.7" height="9.7"/><rect x="521.62" y="206.21" width="9.7" height="9.7"/><rect x="526.75" y="206.21" width="9.7" height="9.7"/><rect x="531.88" y="206.10" width="9.7" height="9.7"/><rect x="537.01" y="205.26" width="9.7" height="9.7"/><rect x="542.14" y="204.93" width="9.7" height="9.7"/><rect x="547.27" y="204.68" width="9.7" height="9.7"/><rect x="552.40" y="204.48" width="9.7" height="9.7"/><rect x="557.53" y="204.33" width="9.7" height="9.7"/><rect x="562.66" y="204.32" width="9.7" height="9.7"/><rect x="567.79" y="204.28" width="9.7" height="9.7"/><rect x="572.92" y="204.05" width="9.7" height="9.7"/><rect x="578.05" y="204.00" width="9.7" height="9.7"/><rect x="583.18" y="203.97" width="9.7" height="9.7"/><rect x="588.31" y="203.90" width="9.7" height="9.7"/><rect x="593.44" y="203.84" width="9.7" height="9.7"/><rect x="459.81" y="203.48" width="9.7" height="9.7"/><rect x="464.43" y="202.65" width="9.7" height="9.7"/><rect x="469.04" y="201.55" width="9.7" height="9.7"/><rect x="473.66" y="201.54" width="9.7" height="9.7"/><rect x="478.27" y="201.52" width="9.7" height="9.7"/><rect x="482.89" y="201.45" width="9.7" height="9.7"/><rect x="487.51" y="201.15" width="9.7" height="9.7"/><rect x="492.12" y="201.03" width="9.7" height="9.7"/><rect x="496.74" y="200.94" width="9.7" height="9.7"/><rect x="501.36" y="200.85" width="9.7" height="9.7"/><rect x="505.98" y="200.45" width="9.7" height="9.7"/><rect x="510.59" y="200.40" width="9.7" height="9.7"/><rect x="515.21" y="200.12" width="9.7" height="9.7"/><rect x="519.83" y="199.84" width="9.7" height="9.7"/><rect x="524.44" y="199.78" width="9.7" height="9.7"/><rect x="529.06" y="199.28" width="9.7" height="9.7"/><rect x="533.67" y="199.21" width="9.7" height="9.7"/><rect x="538.29" y="199.18" width="9.7" height="9.7"/><rect x="542.91" y="199.16" width="9.7" height="9.7"/><rect x="547.52" y="199.04" width="9.7" height="9.7"/><rect x="552.14" y="199.00" width="9.7" height="9.7"/><rect x="556.76" y="199.00" width="9.7" height="9.7"/><rect x="561.38" y="198.93" width="9.7" height="9.7"/><rect x="565.99" y="198.83" width="9.7" height="9.7"/><rect x="570.61" y="198.64" width="9.7" height="9.7"/><rect x="575.23" y="198.42" width="9.7" height="9.7"/><rect x="579.84" y="198.40" width="9.7" height="9.7"/><rect x="584.46" y="198.06" width="9.7" height="9.7"/><rect x="589.08" y="197.92" width="9.7" height="9.7"/><rect x="593.69" y="197.77" width="9.7" height="9.7"/><rect x="459.32" y="197.72" width="9.7" height="9.7"/><rect x="462.97" y="197.57" width="9.7" height="9.7"/><rect x="466.61" y="197.43" width="9.7" height="9.7"/><rect x="470.26" y="197.14" width="9.7" height="9.7"/><rect x="473.90" y="197.11" width="9.7" height="9.7"/><rect x="477.55" y="197.01" width="9.7" height="9.7"/><rect x="481.19" y="196.98" width="9.7" height="9.7"/><rect x="484.84" y="196.95" width="9.7" height="9.7"/><rect x="488.48" y="196.75" width="9.7" height="9.7"/><rect x="492.12" y="196.34" width="9.7" height="9.7"/><rect x="495.77" y="196.27" width="9.7" height="9.7"/><rect x="499.41" y="196.23" width="9.7" height="9.7"/><rect x="503.06" y="195.52" width="9.7" height="9.7"/><rect x="506.70" y="195.22" width="9.7" height="9.7"/><rect x="510.35" y="195.14" width="9.7" height="9.7"/><rect x="513.99" y="194.88" width="9.7" height="9.7"/><rect x="517.64" y="194.84" width="9.7" height="9.7"/><rect x="521.28" y="194.76" width="9.7" height="9.7"/><rect x="524.93" y="194.71" width="9.7" height="9.7"/><rect x="528.57" y="194.70" width="9.7" height="9.7"/><rect x="532.22" y="194.43" width="9.7" height="9.7"/><rect x="535.86" y="194.31" width="9.7" height="9.7"/><rect x="539.51" y="194.17" width="9.7" height="9.7"/><rect x="543.15" y="193.84" width="9.7" height="9.7"/><rect x="546.80" y="193.77" width="9.7" height="9.7"/><rect x="550.44" y="193.47" width="9.7" height="9.7"/><rect x="554.09" y="193.12" width="9.7" height="9.7"/><rect x="557.73" y="193.09" width="9.7" height="9.7"/><rect x="561.38" y="193.06" width="9.7" height="9.7"/><rect x="565.02" y="192.94" width="9.7" height="9.7"/><rect x="568.66" y="192.91" width="9.7" height="9.7"/><rect x="572.31" y="192.88" width="9.7" height="9.7"/><rect x="575.95" y="192.59" width="9.7" height="9.7"/><rect x="579.60" y="192.52" width="9.7" height="9.7"/><rect x="583.24" y="192.22" width="9.7" height="9.7"/><rect x="586.89" y="192.01" width="9.7" height="9.7"/><rect x="590.53" y="191.87" width="9.7" height="9.7"/><rect x="594.18" y="191.77" width="9.7" height="9.7"/><rect x="459.19" y="191.73" width="9.7" height="9.7"/><rect x="462.57" y="191.72" width="9.7" height="9.7"/><rect x="465.95" y="191.58" width="9.7" height="9.7"/><rect x="469.32" y="191.55" width="9.7" height="9.7"/><rect x="472.70" y="191.23" width="9.7" height="9.7"/><rect x="476.08" y="190.89" width="9.7" height="9.7"/><rect x="479.46" y="190.85" width="9.7" height="9.7"/><rect x="482.84" y="190.71" width="9.7" height="9.7"/><rect x="486.21" y="190.55" width="9.7" height="9.7"/><rect x="489.59" y="190.34" width="9.7" height="9.7"/><rect x="492.97" y="190.16" width="9.7" height="9.7"/><rect x="496.35" y="190.06" width="9.7" height="9.7"/><rect x="499.73" y="189.89" width="9.7" height="9.7"/><rect x="503.10" y="189.89" width="9.7" height="9.7"/><rect x="506.48" y="189.87" width="9.7" height="9.7"/><rect x="509.86" y="189.69" width="9.7" height="9.7"/><rect x="513.24" y="189.65" width="9.7" height="9.7"/><rect x="516.62" y="189.61" width="9.7" height="9.7"/><rect x="519.99" y="189.57" width="9.7" height="9.7"/><rect x="523.37" y="189.34" width="9.7" height="9.7"/><rect x="526.75" y="188.42" width="9.7" height="9.7"/><rect x="530.13" y="188.40" width="9.7" height="9.7"/><rect x="533.51" y="187.75" width="9.7" height="9.7"/><rect x="536.88" y="187.67" width="9.7" height="9.7"/><rect x="540.26" y="187.60" width="9.7" height="9.7"/><rect x="543.64" y="187.40" width="9.7" height="9.7"/><rect x="547.02" y="187.27" width="9.7" height="9.7"/><rect x="550.40" y="187.18" width="9.7" height="9.7"/><rect x="553.77" y="186.97" width="9.7" height="9.7"/><rect x="557.15" y="186.94" width="9.7" height="9.7"/><rect x="560.53" y="186.92" width="9.7" height="9.7"/><rect x="563.91" y="186.91" width="9.7" height="9.7"/><rect x="567.29" y="186.89" width="9.7" height="9.7"/><rect x="570.66" y="186.83" width="9.7" height="9.7"/><rect x="574.04" y="186.75" width="9.7" height="9.7"/><rect x="577.42" y="186.73" width="9.7" height="9.7"/><rect x="580.80" y="186.67" width="9.7" height="9.7"/><rect x="584.18" y="186.64" width="9.7" height="9.7"/><rect x="587.55" y="186.58" width="9.7" height="9.7"/><rect x="590.93" y="186.49" width="9.7" height="9.7"/><rect x="594.31" y="185.94" width="9.7" height="9.7"/><rect x="459.15" y="185.70" width="9.7" height="9.7"/><rect x="462.45" y="185.57" width="9.7" height="9.7"/><rect x="465.74" y="185.30" width="9.7" height="9.7"/><rect x="469.04" y="185.25" width="9.7" height="9.7"/><rect x="472.34" y="185.24" width="9.7" height="9.7"/><rect x="475.64" y="184.86" width="9.7" height="9.7"/><rect x="478.93" y="184.67" width="9.7" height="9.7"/><rect x="482.23" y="184.49" width="9.7" height="9.7"/><rect x="485.53" y="184.47" width="9.7" height="9.7"/><rect x="488.83" y="184.41" width="9.7" height="9.7"/><rect x="492.12" y="184.20" width="9.7" height="9.7"/><rect x="495.42" y="184.13" width="9.7" height="9.7"/><rect x="498.72" y="184.13" width="9.7" height="9.7"/><rect x="502.02" y="183.94" width="9.7" height="9.7"/><rect x="505.32" y="183.46" width="9.7" height="9.7"/><rect x="508.61" y="183.40" width="9.7" height="9.7"/><rect x="511.91" y="183.40" width="9.7" height="9.7"/><rect x="515.21" y="183.21" width="9.7" height="9.7"/><rect x="518.51" y="183.20" width="9.7" height="9.7"/><rect x="521.80" y="183.19" width="9.7" height="9.7"/><rect x="525.10" y="183.06" width="9.7" height="9.7"/><rect x="528.40" y="182.95" width="9.7" height="9.7"/><rect x="531.70" y="182.94" width="9.7" height="9.7"/><rect x="534.99" y="182.38" width="9.7" height="9.7"/><rect x="538.29" y="182.37" width="9.7" height="9.7"/><rect x="541.59" y="181.68" width="9.7" height="9.7"/><rect x="544.89" y="181.60" width="9.7" height="9.7"/><rect x="548.18" y="181.60" width="9.7" height="9.7"/><rect x="551.48" y="181.48" width="9.7" height="9.7"/><rect x="554.78" y="181.32" width="9.7" height="9.7"/><rect x="558.08" y="181.31" width="9.7" height="9.7"/><rect x="561.38" y="181.29" width="9.7" height="9.7"/><rect x="564.67" y="181.11" width="9.7" height="9.7"/><rect x="567.97" y="181.03" width="9.7" height="9.7"/><rect x="571.27" y="180.93" width="9.7" height="9.7"/><rect x="574.57" y="180.68" width="9.7" height="9.7"/><rect x="577.86" y="180.48" width="9.7" height="9.7"/><rect x="581.16" y="180.37" width="9.7" height="9.7"/><rect x="584.46" y="180.28" width="9.7" height="9.7"/><rect x="587.76" y="180.18" width="9.7" height="9.7"/><rect x="591.05" y="180.07" width="9.7" height="9.7"/><rect x="594.35" y="179.88" width="9.7" height="9.7"/><rect x="459.01" y="179.50" width="9.7" height="9.7"/><rect x="462.02" y="179.28" width="9.7" height="9.7"/><rect x="465.03" y="178.96" width="9.7" height="9.7"/><rect x="468.04" y="178.84" width="9.7" height="9.7"/><rect x="471.05" y="178.72" width="9.7" height="9.7"/><rect x="474.06" y="178.55" width="9.7" height="9.7"/><rect x="477.07" y="178.49" width="9.7" height="9.7"/><rect x="480.08" y="178.49" width="9.7" height="9.7"/><rect x="483.09" y="178.29" width="9.7" height="9.7"/><rect x="486.10" y="178.20" width="9.7" height="9.7"/><rect x="489.11" y="178.11" width="9.7" height="9.7"/><rect x="492.12" y="177.99" width="9.7" height="9.7"/><rect x="495.14" y="177.84" width="9.7" height="9.7"/><rect x="498.15" y="177.71" width="9.7" height="9.7"/><rect x="501.16" y="177.65" width="9.7" height="9.7"/><rect x="504.17" y="177.60" width="9.7" height="9.7"/><rect x="507.18" y="177.32" width="9.7" height="9.7"/><rect x="510.19" y="177.32" width="9.7" height="9.7"/><rect x="513.20" y="177.28" width="9.7" height="9.7"/><rect x="516.21" y="177.14" width="9.7" height="9.7"/><rect x="519.22" y="177.06" width="9.7" height="9.7"/><rect x="522.23" y="176.91" width="9.7" height="9.7"/><rect x="525.24" y="176.75" width="9.7" height="9.7"/><rect x="528.26" y="176.71" width="9.7" height="9.7"/><rect x="531.27" y="176.61" width="9.7" height="9.7"/><rect x="534.28" y="176.58" width="9.7" height="9.7"/><rect x="537.29" y="176.55" width="9.7" height="9.7"/><rect x="540.30" y="176.28" width="9.7" height="9.7"/><rect x="543.31" y="176.21" width="9.7" height="9.7"/><rect x="546.32" y="175.97" width="9.7" height="9.7"/><rect x="549.33" y="175.89" width="9.7" height="9.7"/><rect x="552.34" y="175.64" width="9.7" height="9.7"/><rect x="555.35" y="175.60" width="9.7" height="9.7"/><rect x="558.36" y="175.55" width="9.7" height="9.7"/><rect x="561.38" y="175.49" width="9.7" height="9.7"/><rect x="564.39" y="175.47" width="9.7" height="9.7"/><rect x="567.40" y="175.42" width="9.7" height="9.7"/><rect x="570.41" y="175.31" width="9.7" height="9.7"/><rect x="573.42" y="175.03" width="9.7" height="9.7"/><rect x="576.43" y="174.88" width="9.7" height="9.7"/><rect x="579.44" y="174.72" width="9.7" height="9.7"/><rect x="582.45" y="174.72" width="9.7" height="9.7"/><rect x="585.46" y="174.59" width="9.7" height="9.7"/><rect x="588.47" y="174.31" width="9.7" height="9.7"/><rect x="591.48" y="174.30" width="9.7" height="9.7"/><rect x="594.49" y="174.06" width="9.7" height="9.7"/><rect x="459.07" y="173.61" width="9.7" height="9.7"/><rect x="462.22" y="173.41" width="9.7" height="9.7"/><rect x="465.37" y="173.32" width="9.7" height="9.7"/><rect x="468.52" y="173.12" width="9.7" height="9.7"/><rect x="471.66" y="172.69" width="9.7" height="9.7"/><rect x="474.81" y="172.68" width="9.7" height="9.7"/><rect x="477.96" y="172.59" width="9.7" height="9.7"/><rect x="481.11" y="172.56" width="9.7" height="9.7"/><rect x="484.26" y="172.46" width="9.7" height="9.7"/><rect x="487.40" y="172.42" width="9.7" height="9.7"/><rect x="490.55" y="172.36" width="9.7" height="9.7"/><rect x="493.70" y="172.34" width="9.7" height="9.7"/><rect x="496.85" y="172.19" width="9.7" height="9.7"/><rect x="499.99" y="172.12" width="9.7" height="9.7"/><rect x="503.14" y="171.78" width="9.7" height="9.7"/><rect x="506.29" y="171.44" width="9.7" height="9.7"/><rect x="509.44" y="171.33" width="9.7" height="9.7"/><rect x="512.59" y="171.06" width="9.7" height="9.7"/><rect x="515.73" y="171.01" width="9.7" height="9.7"/><rect x="518.88" y="170.91" width="9.7" height="9.7"/><rect x="522.03" y="170.79" width="9.7" height="9.7"/><rect x="525.18" y="170.73" width="9.7" height="9.7"/><rect x="528.32" y="170.70" width="9.7" height="9.7"/><rect x="531.47" y="170.51" width="9.7" height="9.7"/><rect x="534.62" y="170.38" width="9.7" height="9.7"/><rect x="537.77" y="170.35" width="9.7" height="9.7"/><rect x="540.91" y="170.19" width="9.7" height="9.7"/><rect x="544.06" y="170.06" width="9.7" height="9.7"/><rect x="547.21" y="169.65" width="9.7" height="9.7"/><rect x="550.36" y="168.97" width="9.7" height="9.7"/><rect x="553.51" y="168.93" width="9.7" height="9.7"/><rect x="556.65" y="168.87" width="9.7" height="9.7"/><rect x="559.80" y="168.87" width="9.7" height="9.7"/><rect x="562.95" y="168.84" width="9.7" height="9.7"/><rect x="566.10" y="168.71" width="9.7" height="9.7"/><rect x="569.24" y="168.70" width="9.7" height="9.7"/><rect x="572.39" y="168.46" width="9.7" height="9.7"/><rect x="575.54" y="168.27" width="9.7" height="9.7"/><rect x="578.69" y="168.13" width="9.7" height="9.7"/><rect x="581.84" y="168.13" width="9.7" height="9.7"/><rect x="584.98" y="167.90" width="9.7" height="9.7"/><rect x="588.13" y="167.89" width="9.7" height="9.7"/><rect x="591.28" y="167.77" width="9.7" height="9.7"/><rect x="594.43" y="167.75" width="9.7" height="9.7"/><rect x="459.04" y="167.55" width="9.7" height="9.7"/><rect x="462.12" y="167.42" width="9.7" height="9.7"/><rect x="465.19" y="167.22" width="9.7" height="9.7"/><rect x="468.27" y="167.22" width="9.7" height="9.7"/><rect x="471.35" y="167.07" width="9.7" height="9.7"/><rect x="474.43" y="167.01" width="9.7" height="9.7"/><rect x="477.51" y="166.91" width="9.7" height="9.7"/><rect x="480.58" y="166.81" width="9.7" height="9.7"/><rect x="483.66" y="166.56" width="9.7" height="9.7"/><rect x="486.74" y="166.44" width="9.7" height="9.7"/><rect x="489.82" y="166.33" width="9.7" height="9.7"/><rect x="492.89" y="165.98" width="9.7" height="9.7"/><rect x="495.97" y="165.86" width="9.7" height="9.7"/><rect x="499.05" y="165.51" width="9.7" height="9.7"/><rect x="502.13" y="165.42" width="9.7" height="9.7"/><rect x="505.21" y="165.20" width="9.7" height="9.7"/><rect x="508.28" y="165.12" width="9.7" height="9.7"/><rect x="511.36" y="165.11" width="9.7" height="9.7"/><rect x="514.44" y="165.09" width="9.7" height="9.7"/><rect x="517.52" y="164.80" width="9.7" height="9.7"/><rect x="520.59" y="164.77" width="9.7" height="9.7"/><rect x="523.67" y="164.63" width="9.7" height="9.7"/><rect x="526.75" y="164.59" width="9.7" height="9.7"/><rect x="529.83" y="164.56" width="9.7" height="9.7"/><rect x="532.91" y="164.40" width="9.7" height="9.7"/><rect x="535.98" y="164.37" width="9.7" height="9.7"/><rect x="539.06" y="164.33" width="9.7" height="9.7"/><rect x="542.14" y="164.26" width="9.7" height="9.7"/><rect x="545.22" y="164.16" width="9.7" height="9.7"/><rect x="548.29" y="163.88" width="9.7" height="9.7"/><rect x="551.37" y="163.85" width="9.7" height="9.7"/><rect x="554.45" y="163.76" width="9.7" height="9.7"/><rect x="557.53" y="163.40" width="9.7" height="9.7"/><rect x="560.61" y="163.36" width="9.7" height="9.7"/><rect x="563.68" y="163.31" width="9.7" height="9.7"/><rect x="566.76" y="163.29" width="9.7" height="9.7"/><rect x="569.84" y="163.25" width="9.7" height="9.7"/><rect x="572.92" y="163.25" width="9.7" height="9.7"/><rect x="575.99" y="162.89" width="9.7" height="9.7"/><rect x="579.07" y="162.87" width="9.7" height="9.7"/><rect x="582.15" y="162.80" width="9.7" height="9.7"/><rect x="585.23" y="162.70" width="9.7" height="9.7"/><rect x="588.31" y="162.27" width="9.7" height="9.7"/><rect x="591.38" y="162.25" width="9.7" height="9.7"/><rect x="594.46" y="162.08" width="9.7" height="9.7"/><rect x="459.07" y="161.75" width="9.7" height="9.7"/><rect x="462.22" y="161.24" width="9.7" height="9.7"/><rect x="465.37" y="161.21" width="9.7" height="9.7"/><rect x="468.52" y="161.05" width="9.7" height="9.7"/><rect x="471.66" y="160.96" width="9.7" height="9.7"/><rect x="474.81" y="160.81" width="9.7" height="9.7"/><rect x="477.96" y="160.72" width="9.7" height="9.7"/><rect x="481.11" y="160.55" width="9.7" height="9.7"/><rect x="484.26" y="160.50" width="9.7" height="9.7"/><rect x="487.40" y="160.45" width="9.7" height="9.7"/><rect x="490.55" y="160.31" width="9.7" height="9.7"/><rect x="493.70" y="160.27" width="9.7" height="9.7"/><rect x="496.85" y="160.22" width="9.7" height="9.7"/><rect x="499.99" y="160.19" width="9.7" height="9.7"/><rect x="503.14" y="160.17" width="9.7" height="9.7"/><rect x="506.29" y="160.00" width="9.7" height="9.7"/><rect x="509.44" y="159.90" width="9.7" height="9.7"/><rect x="512.59" y="159.58" width="9.7" height="9.7"/><rect x="515.73" y="159.51" width="9.7" height="9.7"/><rect x="518.88" y="159.33" width="9.7" height="9.7"/><rect x="522.03" y="158.87" width="9.7" height="9.7"/><rect x="525.18" y="158.81" width="9.7" height="9.7"/><rect x="528.32" y="158.31" width="9.7" height="9.7"/><rect x="531.47" y="158.13" width="9.7" height="9.7"/><rect x="534.62" y="158.08" width="9.7" height="9.7"/><rect x="537.77" y="157.87" width="9.7" height="9.7"/><rect x="540.91" y="157.82" width="9.7" height="9.7"/><rect x="544.06" y="157.77" width="9.7" height="9.7"/><rect x="547.21" y="157.65" width="9.7" height="9.7"/><rect x="550.36" y="157.55" width="9.7" height="9.7"/><rect x="553.51" y="157.49" width="9.7" height="9.7"/><rect x="556.65" y="157.48" width="9.7" height="9.7"/><rect x="559.80" y="157.25" width="9.7" height="9.7"/><rect x="562.95" y="157.24" width="9.7" height="9.7"/><rect x="566.10" y="157.04" width="9.7" height="9.7"/><rect x="569.24" y="157.00" width="9.7" height="9.7"/><rect x="572.39" y="156.99" width="9.7" height="9.7"/><rect x="575.54" y="156.66" width="9.7" height="9.7"/><rect x="578.69" y="156.60" width="9.7" height="9.7"/><rect x="581.84" y="156.02" width="9.7" height="9.7"/><rect x="584.98" y="156.00" width="9.7" height="9.7"/><rect x="588.13" y="155.92" width="9.7" height="9.7"/><rect x="591.28" y="155.87" width="9.7" height="9.7"/><rect x="594.43" y="155.84" width="9.7" height="9.7"/><rect x="459.07" y="155.60" width="9.7" height="9.7"/><rect x="462.22" y="155.41" width="9.7" height="9.7"/><rect x="465.37" y="155.29" width="9.7" height="9.7"/><rect x="468.52" y="155.15" width="9.7" height="9.7"/><rect x="471.66" y="155.04" width="9.7" height="9.7"/><rect x="474.81" y="155.03" width="9.7" height="9.7"/><rect x="477.96" y="154.94" width="9.7" height="9.7"/><rect x="481.11" y="154.77" width="9.7" height="9.7"/><rect x="484.26" y="154.69" width="9.7" height="9.7"/><rect x="487.40" y="154.57" width="9.7" height="9.7"/><rect x="490.55" y="154.43" width="9.7" height="9.7"/><rect x="493.70" y="154.33" width="9.7" height="9.7"/><rect x="496.85" y="154.28" width="9.7" height="9.7"/><rect x="499.99" y="154.09" width="9.7" height="9.7"/><rect x="503.14" y="153.79" width="9.7" height="9.7"/><rect x="506.29" y="153.69" width="9.7" height="9.7"/><rect x="509.44" y="153.42" width="9.7" height="9.7"/><rect x="512.59" y="153.36" width="9.7" height="9.7"/><rect x="515.73" y="153.34" width="9.7" height="9.7"/><rect x="518.88" y="153.21" width="9.7" height="9.7"/><rect x="522.03" y="153.03" width="9.7" height="9.7"/><rect x="525.18" y="152.98" width="9.7" height="9.7"/><rect x="528.32" y="152.91" width="9.7" height="9.7"/><rect x="531.47" y="152.90" width="9.7" height="9.7"/><rect x="534.62" y="152.86" width="9.7" height="9.7"/><rect x="537.77" y="152.78" width="9.7" height="9.7"/><rect x="540.91" y="152.33" width="9.7" height="9.7"/><rect x="544.06" y="152.24" width="9.7" height="9.7"/><rect x="547.21" y="152.15" width="9.7" height="9.7"/><rect x="550.36" y="152.02" width="9.7" height="9.7"/><rect x="553.51" y="151.73" width="9.7" height="9.7"/><rect x="556.65" y="151.44" width="9.7" height="9.7"/><rect x="559.80" y="151.34" width="9.7" height="9.7"/><rect x="562.95" y="151.09" width="9.7" height="9.7"/><rect x="566.10" y="151.00" width="9.7" height="9.7"/><rect x="569.24" y="150.93" width="9.7" height="9.7"/><rect x="572.39" y="150.92" width="9.7" height="9.7"/><rect x="575.54" y="150.89" width="9.7" height="9.7"/><rect x="578.69" y="150.19" width="9.7" height="9.7"/><rect x="581.84" y="150.12" width="9.7" height="9.7"/><rect x="584.98" y="150.11" width="9.7" height="9.7"/><rect x="588.13" y="150.09" width="9.7" height="9.7"/><rect x="591.28" y="149.97" width="9.7" height="9.7"/><rect x="594.43" y="149.80" width="9.7" height="9.7"/><rect x="459.15" y="149.60" width="9.7" height="9.7"/><rect x="462.45" y="149.48" width="9.7" height="9.7"/><rect x="465.74" y="149.46" width="9.7" height="9.7"/><rect x="469.04" y="149.29" width="9.7" height="9.7"/><rect x="472.34" y="149.21" width="9.7" height="9.7"/><rect x="475.64" y="149.05" width="9.7" height="9.7"/><rect x="478.93" y="148.69" width="9.7" height="9.7"/><rect x="482.23" y="148.41" width="9.7" height="9.7"/><rect x="485.53" y="148.30" width="9.7" height="9.7"/><rect x="488.83" y="147.96" width="9.7" height="9.7"/><rect x="492.12" y="147.93" width="9.7" height="9.7"/><rect x="495.42" y="147.91" width="9.7" height="9.7"/><rect x="498.72" y="147.86" width="9.7" height="9.7"/><rect x="502.02" y="147.85" width="9.7" height="9.7"/><rect x="505.32" y="147.67" width="9.7" height="9.7"/><rect x="508.61" y="147.59" width="9.7" height="9.7"/><rect x="511.91" y="147.54" width="9.7" height="9.7"/><rect x="515.21" y="147.45" width="9.7" height="9.7"/><rect x="518.51" y="147.30" width="9.7" height="9.7"/><rect x="521.80" y="147.17" width="9.7" height="9.7"/><rect x="525.10" y="147.15" width="9.7" height="9.7"/><rect x="528.40" y="147.15" width="9.7" height="9.7"/><rect x="531.70" y="146.98" width="9.7" height="9.7"/><rect x="534.99" y="146.93" width="9.7" height="9.7"/><rect x="538.29" y="146.73" width="9.7" height="9.7"/><rect x="541.59" y="146.72" width="9.7" height="9.7"/><rect x="544.89" y="146.71" width="9.7" height="9.7"/><rect x="548.18" y="145.87" width="9.7" height="9.7"/><rect x="551.48" y="145.45" width="9.7" height="9.7"/><rect x="554.78" y="145.35" width="9.7" height="9.7"/><rect x="558.08" y="145.31" width="9.7" height="9.7"/><rect x="561.38" y="145.25" width="9.7" height="9.7"/><rect x="564.67" y="145.17" width="9.7" height="9.7"/><rect x="567.97" y="144.86" width="9.7" height="9.7"/><rect x="571.27" y="144.85" width="9.7" height="9.7"/><rect x="574.57" y="144.79" width="9.7" height="9.7"/><rect x="577.86" y="144.74" width="9.7" height="9.7"/><rect x="581.16" y="144.64" width="9.7" height="9.7"/><rect x="584.46" y="144.60" width="9.7" height="9.7"/><rect x="587.76" y="144.54" width="9.7" height="9.7"/><rect x="591.05" y="144.40" width="9.7" height="9.7"/><rect x="594.35" y="144.14" width="9.7" height="9.7"/><rect x="459.23" y="143.74" width="9.7" height="9.7"/><rect x="462.69" y="143.48" width="9.7" height="9.7"/><rect x="466.16" y="143.44" width="9.7" height="9.7"/><rect x="469.62" y="143.33" width="9.7" height="9.7"/><rect x="473.08" y="143.08" width="9.7" height="9.7"/><rect x="476.54" y="142.99" width="9.7" height="9.7"/><rect x="480.01" y="142.86" width="9.7" height="9.7"/><rect x="483.47" y="142.55" width="9.7" height="9.7"/><rect x="486.93" y="142.49" width="9.7" height="9.7"/><rect x="490.39" y="142.34" width="9.7" height="9.7"/><rect x="493.86" y="142.29" width="9.7" height="9.7"/><rect x="497.32" y="142.16" width="9.7" height="9.7"/><rect x="500.78" y="141.76" width="9.7" height="9.7"/><rect x="504.24" y="141.25" width="9.7" height="9.7"/><rect x="507.71" y="141.23" width="9.7" height="9.7"/><rect x="511.17" y="141.14" width="9.7" height="9.7"/><rect x="514.63" y="140.50" width="9.7" height="9.7"/><rect x="518.09" y="140.46" width="9.7" height="9.7"/><rect x="521.56" y="140.31" width="9.7" height="9.7"/><rect x="525.02" y="140.13" width="9.7" height="9.7"/><rect x="528.48" y="140.09" width="9.7" height="9.7"/><rect x="531.94" y="140.04" width="9.7" height="9.7"/><rect x="535.41" y="139.66" width="9.7" height="9.7"/><rect x="538.87" y="139.61" width="9.7" height="9.7"/><rect x="542.33" y="139.59" width="9.7" height="9.7"/><rect x="545.79" y="139.51" width="9.7" height="9.7"/><rect x="549.26" y="139.50" width="9.7" height="9.7"/><rect x="552.72" y="139.49" width="9.7" height="9.7"/><rect x="556.18" y="139.36" width="9.7" height="9.7"/><rect x="559.64" y="139.31" width="9.7" height="9.7"/><rect x="563.11" y="139.15" width="9.7" height="9.7"/><rect x="566.57" y="139.13" width="9.7" height="9.7"/><rect x="570.03" y="138.87" width="9.7" height="9.7"/><rect x="573.49" y="138.55" width="9.7" height="9.7"/><rect x="576.96" y="138.36" width="9.7" height="9.7"/><rect x="580.42" y="138.32" width="9.7" height="9.7"/><rect x="583.88" y="138.27" width="9.7" height="9.7"/><rect x="587.34" y="138.16" width="9.7" height="9.7"/><rect x="590.81" y="138.05" width="9.7" height="9.7"/><rect x="594.27" y="137.76" width="9.7" height="9.7"/><rect x="459.32" y="137.73" width="9.7" height="9.7"/><rect x="462.97" y="137.72" width="9.7" height="9.7"/><rect x="466.61" y="137.69" width="9.7" height="9.7"/><rect x="470.26" y="137.56" width="9.7" height="9.7"/><rect x="473.90" y="137.50" width="9.7" height="9.7"/><rect x="477.55" y="137.43" width="9.7" height="9.7"/><rect x="481.19" y="137.38" width="9.7" height="9.7"/><rect x="484.84" y="137.29" width="9.7" height="9.7"/><rect x="488.48" y="137.05" width="9.7" height="9.7"/><rect x="492.12" y="136.72" width="9.7" height="9.7"/><rect x="495.77" y="136.71" width="9.7" height="9.7"/><rect x="499.41" y="136.68" width="9.7" height="9.7"/><rect x="503.06" y="136.52" width="9.7" height="9.7"/><rect x="506.70" y="136.49" width="9.7" height="9.7"/><rect x="510.35" y="136.15" width="9.7" height="9.7"/><rect x="513.99" y="135.96" width="9.7" height="9.7"/><rect x="517.64" y="135.96" width="9.7" height="9.7"/><rect x="521.28" y="135.87" width="9.7" height="9.7"/><rect x="524.93" y="135.80" width="9.7" height="9.7"/><rect x="528.57" y="135.67" width="9.7" height="9.7"/><rect x="532.22" y="135.31" width="9.7" height="9.7"/><rect x="535.86" y="135.28" width="9.7" height="9.7"/><rect x="539.51" y="135.01" width="9.7" height="9.7"/><rect x="543.15" y="134.85" width="9.7" height="9.7"/><rect x="546.80" y="134.71" width="9.7" height="9.7"/><rect x="550.44" y="134.21" width="9.7" height="9.7"/><rect x="554.09" y="134.14" width="9.7" height="9.7"/><rect x="557.73" y="134.10" width="9.7" height="9.7"/><rect x="561.38" y="133.78" width="9.7" height="9.7"/><rect x="565.02" y="133.43" width="9.7" height="9.7"/><rect x="568.66" y="133.30" width="9.7" height="9.7"/><rect x="572.31" y="133.29" width="9.7" height="9.7"/><rect x="575.95" y="133.26" width="9.7" height="9.7"/><rect x="579.60" y="133.13" width="9.7" height="9.7"/><rect x="583.24" y="132.92" width="9.7" height="9.7"/><rect x="586.89" y="132.69" width="9.7" height="9.7"/><rect x="590.53" y="132.48" width="9.7" height="9.7"/><rect x="594.18" y="131.94" width="9.7" height="9.7"/><rect x="459.32" y="131.62" width="9.7" height="9.7"/><rect x="462.97" y="131.57" width="9.7" height="9.7"/><rect x="466.61" y="131.54" width="9.7" height="9.7"/><rect x="470.26" y="131.46" width="9.7" height="9.7"/><rect x="473.90" y="131.41" width="9.7" height="9.7"/><rect x="477.55" y="130.92" width="9.7" height="9.7"/><rect x="481.19" y="130.92" width="9.7" height="9.7"/><rect x="484.84" y="130.89" width="9.7" height="9.7"/><rect x="488.48" y="130.72" width="9.7" height="9.7"/><rect x="492.12" y="130.40" width="9.7" height="9.7"/><rect x="495.77" y="130.32" width="9.7" height="9.7"/><rect x="499.41" y="130.13" width="9.7" height="9.7"/><rect x="503.06" y="129.97" width="9.7" height="9.7"/><rect x="506.70" y="129.82" width="9.7" height="9.7"/><rect x="510.35" y="129.69" width="9.7" height="9.7"/><rect x="513.99" y="129.69" width="9.7" height="9.7"/><rect x="517.64" y="129.07" width="9.7" height="9.7"/><rect x="521.28" y="129.07" width="9.7" height="9.7"/><rect x="524.93" y="128.98" width="9.7" height="9.7"/><rect x="528.57" y="128.77" width="9.7" height="9.7"/><rect x="532.22" y="128.60" width="9.7" height="9.7"/><rect x="535.86" y="128.35" width="9.7" height="9.7"/><rect x="539.51" y="128.14" width="9.7" height="9.7"/><rect x="543.15" y="128.02" width="9.7" height="9.7"/><rect x="546.80" y="128.01" width="9.7" height="9.7"/><rect x="550.44" y="127.79" width="9.7" height="9.7"/><rect x="554.09" y="127.49" width="9.7" height="9.7"/><rect x="557.73" y="127.49" width="9.7" height="9.7"/><rect x="561.38" y="127.46" width="9.7" height="9.7"/><rect x="565.02" y="127.20" width="9.7" height="9.7"/><rect x="568.66" y="127.07" width="9.7" height="9.7"/><rect x="572.31" y="126.93" width="9.7" height="9.7"/><rect x="575.95" y="126.88" width="9.7" height="9.7"/><rect x="579.60" y="126.52" width="9.7" height="9.7"/><rect x="583.24" y="126.43" width="9.7" height="9.7"/><rect x="586.89" y="126.28" width="9.7" height="9.7"/><rect x="590.53" y="125.98" width="9.7" height="9.7"/><rect x="594.18" y="125.92" width="9.7" height="9.7"/><rect x="461.14" y="125.58" width="9.7" height="9.7"/><rect x="468.43" y="125.52" width="9.7" height="9.7"/><rect x="475.72" y="125.45" width="9.7" height="9.7"/><rect x="483.01" y="124.90" width="9.7" height="9.7"/><rect x="490.30" y="124.82" width="9.7" height="9.7"/><rect x="497.59" y="124.55" width="9.7" height="9.7"/><rect x="504.88" y="123.76" width="9.7" height="9.7"/><rect x="512.17" y="123.55" width="9.7" height="9.7"/><rect x="519.46" y="123.07" width="9.7" height="9.7"/><rect x="526.75" y="122.71" width="9.7" height="9.7"/><rect x="534.04" y="122.50" width="9.7" height="9.7"/><rect x="541.33" y="122.43" width="9.7" height="9.7"/><rect x="548.62" y="122.14" width="9.7" height="9.7"/><rect x="555.91" y="121.61" width="9.7" height="9.7"/><rect x="563.20" y="121.28" width="9.7" height="9.7"/><rect x="570.49" y="121.21" width="9.7" height="9.7"/><rect x="577.78" y="121.17" width="9.7" height="9.7"/><rect x="585.07" y="120.80" width="9.7" height="9.7"/><rect x="592.36" y="120.32" width="9.7" height="9.7"/><rect x="461.57" y="118.96" width="9.7" height="9.7"/><rect x="469.72" y="118.69" width="9.7" height="9.7"/><rect x="477.87" y="118.38" width="9.7" height="9.7"/><rect x="486.01" y="117.34" width="9.7" height="9.7"/><rect x="494.16" y="117.23" width="9.7" height="9.7"/><rect x="502.31" y="116.84" width="9.7" height="9.7"/><rect x="510.46" y="116.77" width="9.7" height="9.7"/><rect x="518.60" y="116.32" width="9.7" height="9.7"/><rect x="526.75" y="116.29" width="9.7" height="9.7"/><rect x="534.90" y="115.96" width="9.7" height="9.7"/><rect x="543.04" y="115.83" width="9.7" height="9.7"/><rect x="551.19" y="115.82" width="9.7" height="9.7"/><rect x="559.34" y="115.23" width="9.7" height="9.7"/><rect x="567.49" y="114.72" width="9.7" height="9.7"/><rect x="575.63" y="114.58" width="9.7" height="9.7"/><rect x="583.78" y="114.32" width="9.7" height="9.7"/><rect x="591.93" y="113.76" width="9.7" height="9.7"/><rect x="462.45" y="113.48" width="9.7" height="9.7"/><rect x="472.34" y="113.10" width="9.7" height="9.7"/><rect x="482.23" y="112.35" width="9.7" height="9.7"/><rect x="492.12" y="112.09" width="9.7" height="9.7"/><rect x="502.02" y="112.01" width="9.7" height="9.7"/><rect x="511.91" y="111.77" width="9.7" height="9.7"/><rect x="521.80" y="111.42" width="9.7" height="9.7"/><rect x="531.70" y="111.24" width="9.7" height="9.7"/><rect x="541.59" y="111.22" width="9.7" height="9.7"/><rect x="551.48" y="109.81" width="9.7" height="9.7"/><rect x="561.38" y="109.66" width="9.7" height="9.7"/><rect x="571.27" y="108.09" width="9.7" height="9.7"/><rect x="581.16" y="107.85" width="9.7" height="9.7"/><rect x="591.05" y="107.63" width="9.7" height="9.7"/><rect x="495.55" y="106.95" width="9.7" height="9.7"/><rect x="505.95" y="106.65" width="9.7" height="9.7"/><rect x="516.35" y="106.35" width="9.7" height="9.7"/><rect x="526.75" y="105.95" width="9.7" height="9.7"/><rect x="537.15" y="105.35" width="9.7" height="9.7"/><rect x="547.55" y="104.65" width="9.7" height="9.7"/><rect x="557.95" y="103.15" width="9.7" height="9.7"/><rect x="495.55" y="100.65" width="9.7" height="9.7"/><rect x="505.95" y="100.65" width="9.7" height="9.7"/><rect x="516.35" y="100.45" width="9.7" height="9.7"/><rect x="526.75" y="99.65" width="9.7" height="9.7"/><rect x="537.15" y="99.65" width="9.7" height="9.7"/><rect x="547.55" y="99.15" width="9.7" height="9.7"/><rect x="557.95" y="96.65" width="9.7" height="9.7"/><rect x="516.35" y="90.45" width="9.7" height="9.7"/><rect x="526.75" y="90.15" width="9.7" height="9.7"/><rect x="537.15" y="86.75" width="9.7" height="9.7"/><rect x="522.15" y="84.05" width="9.7" height="9.7"/><rect x="531.65" y="80.45" width="9.7" height="9.7"/><rect x="522.15" y="75.05" width="9.7" height="9.7"/><rect x="531.65" y="70.95" width="9.7" height="9.7"/><rect x="526.65" y="50.55" width="9.7" height="9.7"/></g>
<path d="M100.7 1.8V465.8M99.6 464.75H683.6" stroke="#000" stroke-width="2.2" fill="none"/>
<path d="M100.7 453.80H111.8 M100.7 398.80H111.8 M100.7 343.80H111.8 M100.7 288.80H111.8 M100.7 233.80H111.8 M100.7 178.80H111.8 M100.7 123.80H111.8 M100.7 68.80H111.8 M100.7 13.80H111.8 M252.20 464V455.2 M531.10 464V455.2" stroke="#000" stroke-width="2" fill="none"/>
<path d="M100.7 426.60H107.9 M100.7 371.60H107.9 M100.7 316.60H107.9 M100.7 261.60H107.9 M100.7 206.60H107.9 M100.7 151.60H107.9 M100.7 96.60H107.9 M100.7 41.60H107.9" stroke="#000" stroke-width="1.7" fill="none"/>
<text x="90.0" y="460.70" text-anchor="end" font-family="&quot;Liberation Sans&quot;, sans-serif" font-size="25" textLength="14.32" lengthAdjust="spacingAndGlyphs">0</text>
<text x="52.9" y="460.70" font-family="&quot;Liberation Sans&quot;, sans-serif" font-size="25" textLength="8.82" lengthAdjust="spacingAndGlyphs">-</text>
<path d="M71.75 443.1V461H69.25V447.1C68.0 448.3 66.4 449.2 64.6 449.8V447.5C66.9 446.5 68.8 444.9 69.8 443.1Z" fill="#000"/>
<text x="90.0" y="405.70" text-anchor="end" font-family="&quot;Liberation Sans&quot;, sans-serif" font-size="25" textLength="22.90" lengthAdjust="spacingAndGlyphs">-8</text>
<text x="90.0" y="350.70" text-anchor="end" font-family="&quot;Liberation Sans&quot;, sans-serif" font-size="25" textLength="22.90" lengthAdjust="spacingAndGlyphs">-6</text>
<text x="90.0" y="295.70" text-anchor="end" font-family="&quot;Liberation Sans&quot;, sans-serif" font-size="25" textLength="22.90" lengthAdjust="spacingAndGlyphs">-4</text>
<text x="90.0" y="240.70" text-anchor="end" font-family="&quot;Liberation Sans&quot;, sans-serif" font-size="25" textLength="22.90" lengthAdjust="spacingAndGlyphs">-2</text>
<text x="90.0" y="185.70" text-anchor="end" font-family="&quot;Liberation Sans&quot;, sans-serif" font-size="25" textLength="14.32" lengthAdjust="spacingAndGlyphs">0</text>
<text x="90.0" y="130.70" text-anchor="end" font-family="&quot;Liberation Sans&quot;, sans-serif" font-size="25" textLength="14.32" lengthAdjust="spacingAndGlyphs">2</text>
<text x="90.0" y="75.70" text-anchor="end" font-family="&quot;Liberation Sans&quot;, sans-serif" font-size="25" textLength="14.32" lengthAdjust="spacingAndGlyphs">4</text>
<text x="90.0" y="20.70" text-anchor="end" font-family="&quot;Liberation Sans&quot;, sans-serif" font-size="25" textLength="14.32" lengthAdjust="spacingAndGlyphs">6</text>
<text x="252.9" y="495.2" text-anchor="middle" font-family="&quot;Liberation Sans&quot;, sans-serif" font-size="25" textLength="91.56" lengthAdjust="spacingAndGlyphs">Anterior</text>
<text x="531.2" y="495.2" text-anchor="middle" font-family="&quot;Liberation Sans&quot;, sans-serif" font-size="25" textLength="79.35" lengthAdjust="spacingAndGlyphs">Lateral</text>
<text transform="translate(21,230.4) rotate(-90)" text-anchor="middle" font-family="&quot;Liberation Sans&quot;, sans-serif" font-size="25" textLength="212.11" lengthAdjust="spacingAndGlyphs">Off-Centering (cm)</text>
</svg>
</body></html>
